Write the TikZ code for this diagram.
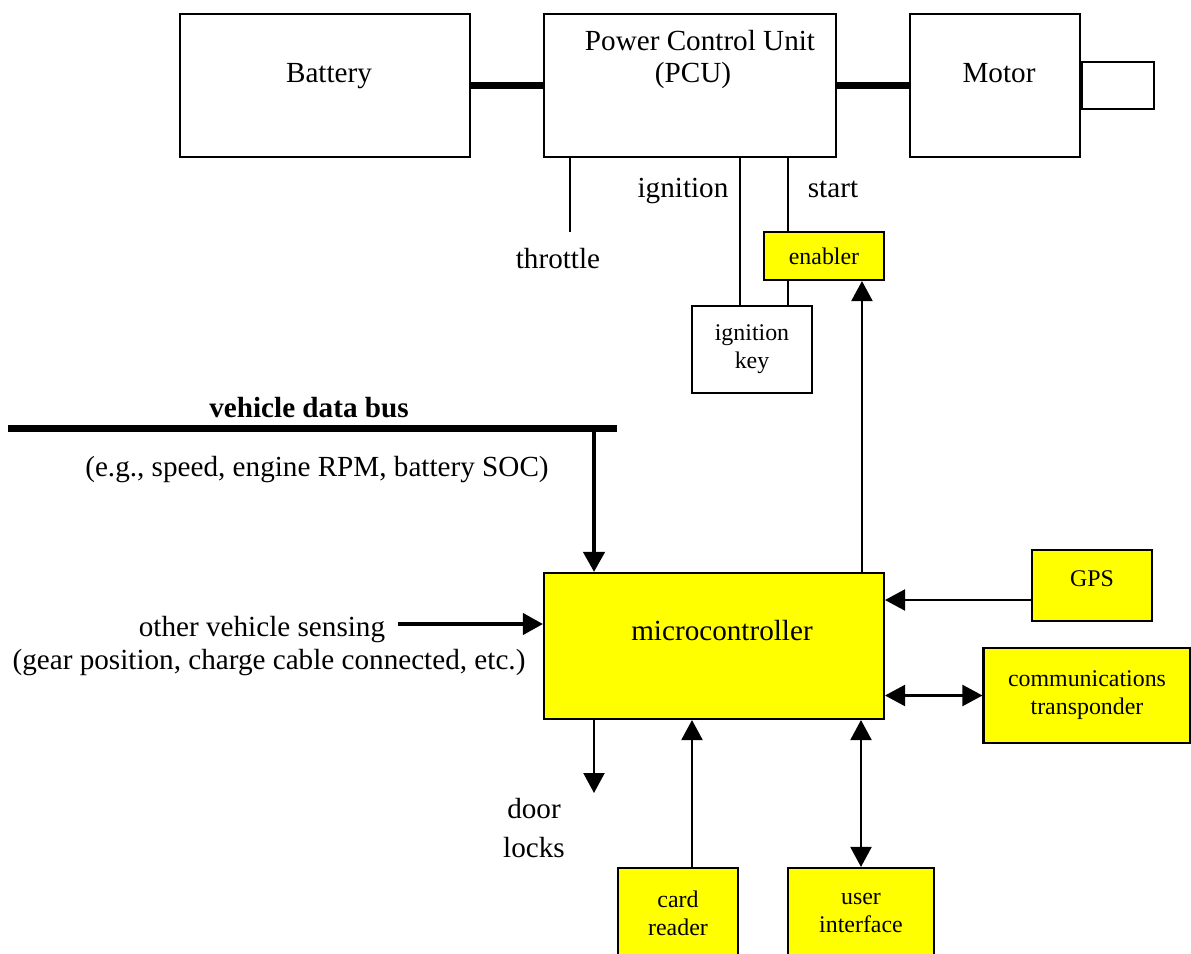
\documentclass[tikz,border=0pt]{standalone}
\usepackage{fontspec}
\setmainfont{Liberation Serif}
\usetikzlibrary{arrows.meta,positioning}
\definecolor{unityellow}{RGB}{255,255,0}

\tikzset{
  box/.style={draw, line width=1.2pt, inner sep=0pt},
  unit/.style={box, fill=unityellow},
  big/.style={font=\fontsize{16.6}{19}\selectfont, inner sep=0pt},
  small/.style={font=\fontsize{13.6}{15.9}\selectfont, align=center, inner sep=0pt},
  wire/.style={line width=1.2pt},
  heavy/.style={line width=2.3pt},
  power/.style={line width=4.3pt},
  tip/.tip={Triangle[length=0.4cm,width=0.42cm]},
  arr/.style={-tip},
  dbl/.style={tip-tip},
}

\begin{document}
\begin{tikzpicture}[x=0.02cm, y=-0.02cm]
      \useasboundingbox (0,0) rectangle (1191,954);
      % drive train
      \node[box, minimum width=5.8cm,  minimum height=2.86cm] (bat)   at (325,85.5)  {};
      \node[box, minimum width=5.84cm, minimum height=2.86cm] (pcu)   at (690,85.5)  {};
      \node[box, minimum width=3.4cm,  minimum height=2.86cm] (mot)   at (995,85.5)  {};
      \node[box, minimum width=1.44cm, minimum height=0.94cm, anchor=west] (shaft) at (mot.east) {};
      \node[big, anchor=base] (battxt)  at (329,82) {Battery};
      \node[big, anchor=base] (pcutxt1) at (700,50) {Power Control Unit};
      \node[big, anchor=base] (pcutxt2) at (693,82) {(PCU)};
      \node[big, anchor=base] (mottxt)  at (999,82) {Motor};
      \draw[power] (bat) -- (pcu);
      \draw[power] (pcu) -- (mot);

      % pcu inputs
      \node[unit, small, minimum width=2.4cm, minimum height=0.96cm] (enab) at (824,256)   {enabler};
      \node[box,  small, minimum width=2.4cm, minimum height=1.74cm] (key)  at (752,349.5) {ignition\\key};
      \coordinate (thr) at (570,232);
      \coordinate (ign) at ([xshift=-0.24cm]key.north);
      \coordinate (stt) at ([xshift=-0.72cm]enab.north);
      \coordinate (stb) at ([xshift=-0.72cm]enab.south);
      \draw[wire] (thr |- pcu.south) -- (thr);
      \draw[wire] (ign |- pcu.south) -- (ign);
      \draw[wire] (stt |- pcu.south) -- (stt);
      \draw[wire] (stb) -- (stb |- key.north);
      \node[big, anchor=base] (thrtxt) at (558,268) {throttle};
      \node[big, anchor=base] (igntxt) at (683,197) {ignition};
      \node[big, anchor=base] (stttxt) at (833,197) {start};

      % microcontroller and peripherals
      \node[unit, minimum width=6.8cm, minimum height=2.92cm] (mcu) at (714,646) {};
      \node[big, anchor=base] (mcutxt) at (722,640) {microcontroller};
      \node[unit, minimum width=2.4cm,  minimum height=1.42cm] (gps)  at (1092,585.5) {};
      \node[big, font=\fontsize{13.6}{15.9}\selectfont, anchor=base] (gpstxt) at (1092,586) {GPS};
      \node[unit, small, minimum width=4.14cm, minimum height=1.9cm]  (comm) at (1087,695.5) {communications\\transponder};
      \node[unit, small, minimum width=2.4cm,  minimum height=1.8cm]  (card) at (678,913)    {card\\reader};
      \node[unit, small, minimum width=2.92cm, minimum height=1.8cm]  (ui)   at (861,913)    {user\\interface};

      % vehicle data bus
      \coordinate (busl) at (8,428.5);
      \coordinate (busr) at (617,428.5);
      \draw[power, line width=4pt] (busl) -- (busr);
      \node[big, font=\fontsize{16.6}{19}\selectfont\bfseries, anchor=base] (bustxt) at (309,417) {vehicle data bus};
      \node[big, anchor=base] (egtxt) at (317,476) {(e.g., speed, engine RPM, battery SOC)};
      \coordinate (busin) at ([xshift=-2.4cm]mcu.north);
      \draw[heavy, arr] (busin |- busr) -- (busin);

      % other sensing
      \coordinate (sens) at (398,624);
      \draw[heavy, arr] (sens) -- (sens -| mcu.west);
      \node[big, anchor=base] (senstxt1) at (262,636) {other vehicle sensing};
      \node[big, anchor=base] (senstxt2) at (269,669) {(gear position, charge cable connected, etc.)};

      % connectors
      \coordinate (enout) at ([xshift=2.96cm]mcu.north);
      \draw[wire, arr] (enout) -- (enout |- enab.south);
      \coordinate (gpsin) at ([yshift=-0.29cm]gps.west);
      \draw[wire, arr] (gpsin) -- (gpsin -| mcu.east);
      \draw[wire, dbl] (comm.west) -- (comm.west -| mcu.east);
      \coordinate (door) at (594,793);
      \draw[wire, arr] (door |- mcu.south) -- (door);
      \node[big, anchor=base] (doortxt1) at (534,818) {door};
      \node[big, anchor=base] (doortxt2) at (534,857) {locks};
      \coordinate (cardout) at ([xshift=0.28cm]card.north);
      \draw[wire, arr] (cardout) -- (cardout |- mcu.south);
      \draw[wire, dbl] (ui.north) -- (ui.north |- mcu.south);
 \end{tikzpicture}
\end{document}
